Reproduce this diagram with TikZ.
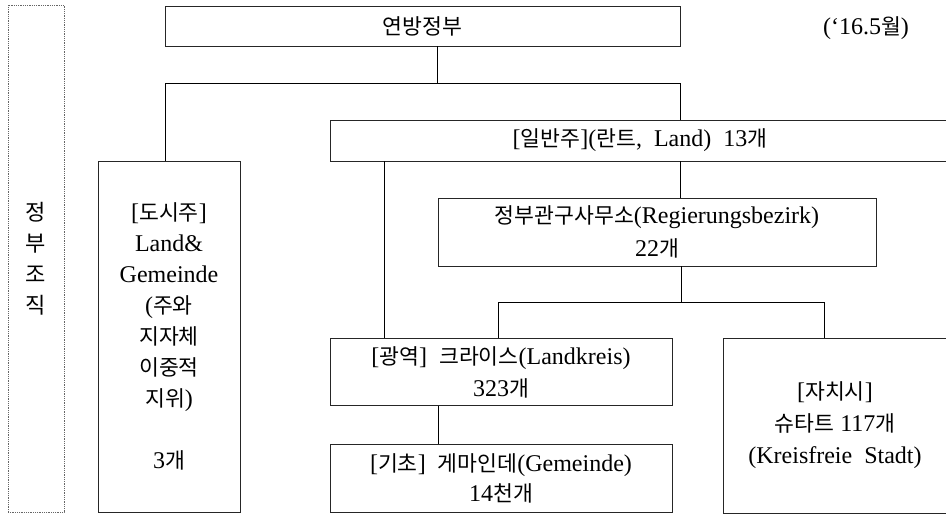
\documentclass[tikz,border=0pt]{standalone}
\usepackage{fontspec}
\setmainfont{Liberation Serif}
\newfontfamily\krfont[Scale=0.9]{Noto Sans CJK KR}
\newcommand\kr[1]{{\krfont #1}}
\begin{document}
\begin{tikzpicture}[x=1pt,y=-1pt,
  box/.style={draw=black!85, line width=0.9pt, rectangle, inner sep=0pt, align=center,
    font=\fontsize{24}{31}\selectfont},
  dotbox/.style={draw=black!60, line width=0.7pt, dash pattern=on 0.9pt off 0.9pt, rectangle,
    inner sep=0pt, align=center},
  txt/.style={align=center, inner sep=0pt, font=\fontsize{24}{31}\selectfont},
  conn/.style={draw=black, line width=0.9pt}]
\useasboundingbox (0,0) rectangle (946,516);
\clip (0,0) rectangle (946,516);
\fill[white] (0,0) rectangle (946,516);

% side label
\node[dotbox, minimum width=56pt, minimum height=507pt,
  font=\krfont\fontsize{24.5}{31}\selectfont] (side) at (36,258.5) {정\\부\\조\\직};

% boxes with their texts
\node[box, minimum width=515pt, minimum height=40pt] (fed) at (422.5,26) {\kr{연방정부}};
\node[box, minimum width=142pt, minimum height=351pt] (dosi) at (169,336.5)
  {[\kr{도시주}]\\Land\&\\Gemeinde\\(\kr{주와}\\\kr{지자체}\\\kr{이중적}\\\kr{지위})\\[31pt]3\kr{개}};
\node[box, minimum width=620pt, minimum height=41pt] (ilban) at (640,140.5)
  {[\kr{일반주}](\kr{란트}, \ Land) \ 13\kr{개}};
\node[box, minimum width=438pt, minimum height=68pt, font=\fontsize{24}{33}\selectfont] (gov) at (657,232)
  {\kr{정부관구사무소}(Regierungsbezirk)\\22\kr{개}};
\node[box, minimum width=342pt, minimum height=67pt, font=\fontsize{24}{32}\selectfont] (gwang) at (501,372)
  {[\kr{광역}] \ \kr{크라이스}(Landkreis)\\323\kr{개}};
\node[box, minimum width=342pt, minimum height=68pt, font=\fontsize{24}{30}\selectfont] (gicho) at (501,478)
  {[\kr{기초}] \ \kr{게마인데}(Gemeinde)\\14\kr{천개}};
\node[box, minimum width=224pt, minimum height=175pt, font=\fontsize{24}{32}\selectfont] (jachi) at (835,425.5)
  {[\kr{자치시}]\\\kr{슈타트} 117\kr{개}\\(Kreisfreie \ Stadt)};

% date
\node[txt] (tDate) at (866,28) {(‘16.5\kr{월})};

% junctions
\coordinate (jTop) at (437,83);
\coordinate (jL) at (165,83);
\coordinate (jR) at (680,83);
\coordinate (xL) at (384,0);
\coordinate (j2) at (681,302);
\coordinate (j2L) at (498,302);
\coordinate (j2R) at (824,302);
\coordinate (xG) at (438,0);

% connectors
\draw[conn] (fed.south -| jTop) -- (jTop);
\draw[conn] (dosi.north -| jL) -- (jL) -- (jR) -- (ilban.north -| jR);
\draw[conn] (ilban.south -| jR) -- (gov.north -| jR);
\draw[conn] (ilban.south -| xL) -- (gwang.north -| xL);
\draw[conn] (gov.south -| j2) -- (j2);
\draw[conn] (gwang.north -| j2L) -- (j2L) -- (j2R) -- (jachi.north -| j2R);
\draw[conn] (gwang.south -| xG) -- (gicho.north -| xG);
\end{tikzpicture}
\end{document}
